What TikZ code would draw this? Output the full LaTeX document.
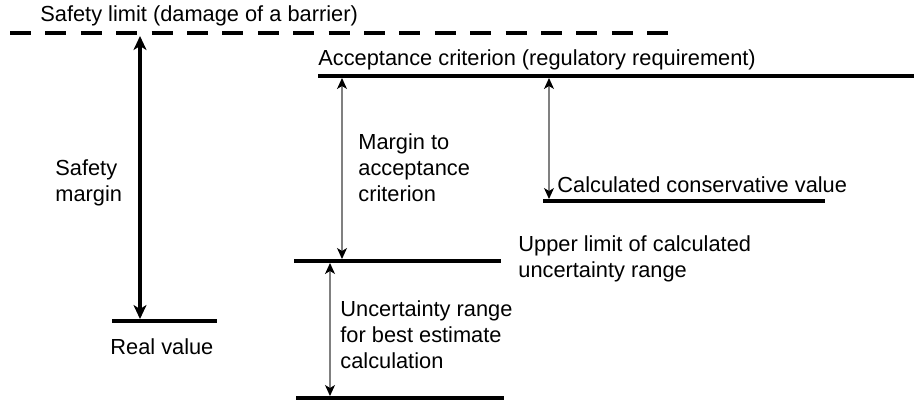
\documentclass[tikz,border=0pt]{standalone}
\usepackage{fontspec}
\setmainfont{Liberation Sans}
\usetikzlibrary{arrows.meta,positioning}

\begin{document}
\begin{tikzpicture}[
    x=0.5pt, y=-0.5pt,
    font=\fontsize{10.9}{13}\selectfont,
    level/.style={draw, line width=2pt},
    limit/.style={draw, line width=2pt, dash pattern=on 10.5pt off 7.2pt},
    txt/.style={anchor=west, align=left, inner sep=0pt},
    bigarrow/.style={draw, line width=1.6pt, {Stealth[length=7pt, width=6.5pt, inset=2pt]}-{Stealth[length=7pt, width=6.5pt, inset=2pt]}},
    smallarrow/.style={draw, gray, line width=0.6pt, {Stealth[length=5.5pt, width=5pt, inset=1.5pt, black]}-{Stealth[length=5.5pt, width=5pt, inset=1.5pt, black]}}
]
    \useasboundingbox (0,0) rectangle (914,403);

    % Levels
    \coordinate (lim-w) at (10,33);   \coordinate (lim-e) at (668,33);
    \coordinate (acc-w) at (318,76);  \coordinate (acc-e) at (914,76);
    \coordinate (cons-w) at (543,201); \coordinate (cons-e) at (825,201);
    \coordinate (up-w) at (294,261);  \coordinate (up-e) at (501,261);
    \coordinate (low-w) at (296,398); \coordinate (low-e) at (504,398);
    \coordinate (real-w) at (112,321); \coordinate (real-e) at (217,321);

    \path[limit] (lim-w) -- (lim-e);
    \path[level] (acc-w) -- (acc-e);
    \path[level] (cons-w) -- (cons-e);
    \path[level] (up-w) -- (up-e);
    \path[level] (low-w) -- (low-e);
    \path[level] (real-w) -- (real-e);

    % Arrow ends
    \coordinate (sm-top) at (140,36);  \coordinate (sm-bot) at (140,319);
    \coordinate (mac-top) at (342,78); \coordinate (mac-bot) at (342,259);
    \coordinate (unc-top) at (330,263); \coordinate (unc-bot) at (330,396);
    \coordinate (cv-top) at (549,78);  \coordinate (cv-bot) at (549,199);

    % Labels
    \node[txt] (limtxt) at (40,16) {Safety limit (damage of a barrier)};
    \node[txt] (acctxt) at (318,60) {Acceptance criterion (regulatory requirement)};
    \node[txt] (smtxt) at (55,183) {Safety\\margin};
    \node[txt] (mactxt) at (358,168) {Margin to\\acceptance\\criterion};
    \node[txt] (cvtxt) at (557,185) {Calculated conservative value};
    \node[txt] (uptxt) at (518,259) {Upper limit of calculated\\uncertainty range};
    \node[txt] (unctxt) at (340,335) {Uncertainty range\\for best estimate\\calculation};
    \node[txt] (realtxt) at (110,347) {Real value};

    % Connections
    \path[bigarrow] (sm-top) -- (sm-bot);
    \path[smallarrow] (mac-top) -- (mac-bot);
    \path[smallarrow] (unc-top) -- (unc-bot);
    \path[smallarrow] (cv-top) -- (cv-bot);

\end{tikzpicture}
\end{document}
